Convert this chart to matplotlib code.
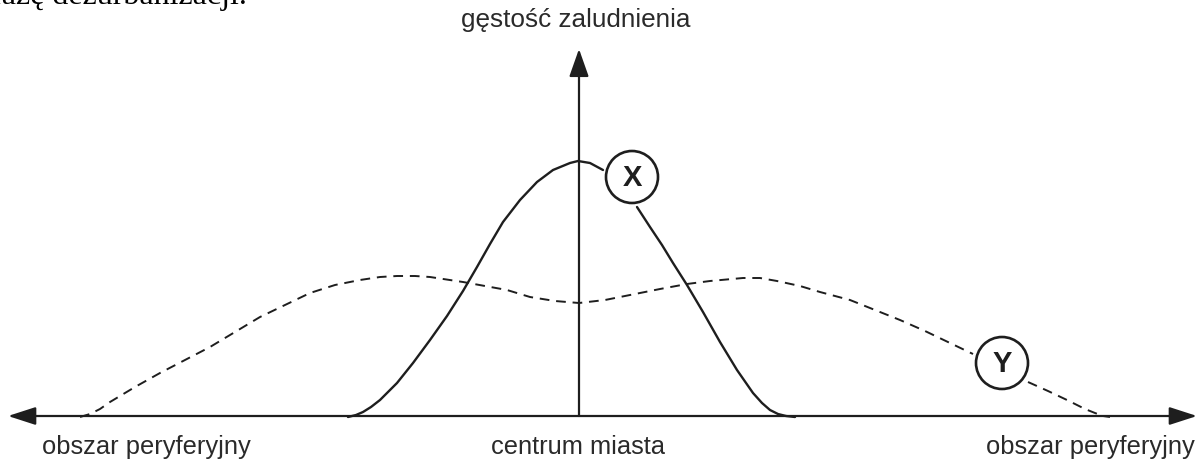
import matplotlib
matplotlib.use('Agg')
import matplotlib.pyplot as plt
from matplotlib.patches import Circle

# curve X (solid), split at the label circle, pixel coordinates
x_left_x = [348, 356, 363, 371, 380, 397, 413, 430, 447, 463, 477, 490, 503, 520, 537,
            553, 570, 578, 590, 603]
x_left_y = [417, 415, 412, 407, 400, 383, 363, 340, 316, 291, 267, 244, 222, 200, 182,
            170, 163, 161, 163, 170]
x_right_x = [637, 650, 662, 673, 687, 703, 720, 737, 753, 762, 770, 778, 786, 795]
x_right_y = [207, 227, 245, 263, 285, 312, 342, 370, 393, 403, 410, 414, 416, 417]

# curve Y (dashed)
y_x = [80, 90, 100, 110, 135, 160, 185, 210, 235, 260, 285, 310, 335, 360, 380, 397,
       415, 430, 463, 485, 507, 530, 555, 579, 605, 630, 660, 687, 710, 743, 760, 777,
       800, 820, 850, 875, 900, 925, 950, 973]
y_y = [417, 414, 409, 402, 387, 373, 360, 347, 332, 317, 305, 293, 285, 280, 277, 276,
       276, 277, 282, 286, 290, 297, 301, 303, 300, 295, 289, 284, 281, 278, 278, 281,
       286, 292, 300, 310, 320, 331, 343, 354]
y_tail_x = [1028, 1048, 1067, 1085, 1095, 1103, 1110]
y_tail_y = [382, 391, 400, 409, 413, 416, 417]

labels_bottom = ['obszar peryferyjny', 'centrum miasta', 'obszar peryferyjny']
label_top = 'gęstość zaludnienia'
circle_labels = ['X', 'Y']
circle_pos = [(632, 177), (1002, 363)]

ink = '#1e1e1e'
text_col = '#2a2a2a'

fig = plt.figure(figsize=(12.02, 4.70), dpi=100)
ax = fig.add_axes([0, 0, 1, 1])
ax.set_xlim(0, 1202)
ax.set_ylim(470, 0)
ax.axis('off')

# axes arrows
ax.annotate('', xy=(8, 416), xytext=(1197, 416),
            arrowprops=dict(arrowstyle='<|-|>,head_length=1.7,head_width=0.55',
                            mutation_scale=10, lw=1.6, color=ink,
                            shrinkA=0, shrinkB=0))
ax.annotate('', xy=(579, 49), xytext=(579, 416),
            arrowprops=dict(arrowstyle='-|>,head_length=1.7,head_width=0.6',
                            mutation_scale=10, lw=1.6, color=ink,
                            shrinkA=0, shrinkB=0))

# curves
ax.plot(x_left_x, x_left_y, color=ink, lw=1.7, solid_capstyle='round', solid_joinstyle='round')
ax.plot(x_right_x, x_right_y, color=ink, lw=1.7, solid_capstyle='round', solid_joinstyle='round')
ax.plot(y_x, y_y, color=ink, lw=1.4, dashes=(5, 3.5))
ax.plot(y_tail_x, y_tail_y, color=ink, lw=1.4, dashes=(5, 3.5))

# labelled circles
for lab, (cx, cy) in zip(circle_labels, circle_pos):
    ax.add_patch(Circle((cx, cy), 26, facecolor='white', edgecolor=ink, lw=1.9, zorder=5))
    ax.text(cx, cy + 1, lab, ha='center', va='center', fontsize=21, fontweight='bold',
            family='Liberation Sans', color=ink, zorder=6)

# texts
ax.text(576, 20, label_top, ha='center', va='center', fontsize=18.8,
        family='Liberation Sans', color=text_col)
ax.text(42, 447, labels_bottom[0], ha='left', va='center', fontsize=18.4,
        family='Liberation Sans', color=text_col)
ax.text(578, 447, labels_bottom[1], ha='center', va='center', fontsize=18.4,
        family='Liberation Sans', color=text_col)
ax.text(1195, 447, labels_bottom[2], ha='right', va='center', fontsize=18.4,
        family='Liberation Sans', color=text_col)

# clipped line of the surrounding page text
ax.text(-9, 4, 'fazę dezurbanizacji.', ha='left', va='baseline', fontsize=23,
        family='Liberation Serif', color='black')

fig.savefig('out.png', dpi=100)
